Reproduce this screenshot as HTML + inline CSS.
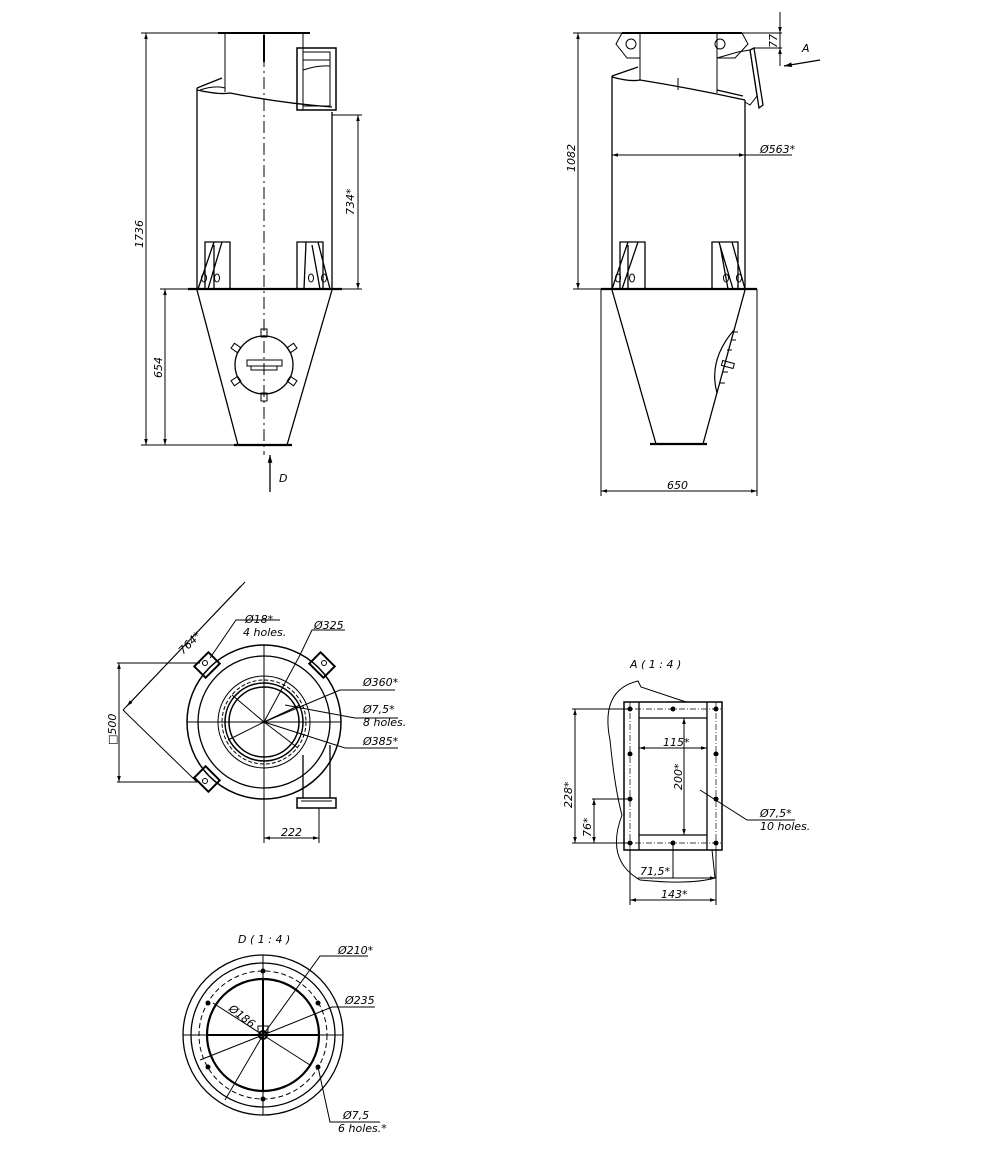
<!DOCTYPE html>
<html><head><style>
html,body{margin:0;padding:0;background:#fff;}
svg{display:block;}
text{font-family:"DejaVu Sans","Liberation Sans",sans-serif;font-style:italic;fill:#000;font-size:11px;}
</style></head><body>
<svg width="1000" height="1149" viewBox="0 0 1000 1149" xmlns="http://www.w3.org/2000/svg">
<defs>
<marker id="ar" viewBox="0 0 10 10" refX="10" refY="5" markerWidth="8" markerHeight="6" orient="auto-start-reverse"><path d="M0,2 L10,5 L0,8 z" fill="#000"/></marker>
</defs>
<g stroke="#000" fill="none" stroke-width="1">
<!-- ========== VIEW 1 ========== -->
<line x1="218" y1="33" x2="310" y2="33" stroke-width="2"/>
<line x1="225" y1="33" x2="225" y2="92"/>
<line x1="303" y1="33" x2="303" y2="110"/>
<line x1="197" y1="88" x2="197" y2="289" stroke-width="1.3"/>
<line x1="332" y1="112" x2="332" y2="289" stroke-width="1.3"/>
<path d="M197,88 L222,78 M197,90 Q220,95 230,93 Q280,103 332,107" stroke-width="1.3"/>
<path d="M200,90 Q215,85 225,88"/>
<rect x="297" y="48" width="39" height="62" stroke-width="1.5"/>
<rect x="303" y="52" width="27" height="54"/>
<path d="M303,60 H330 M303,70 Q318,65 330,66"/>
<line x1="188" y1="289" x2="342" y2="289" stroke-width="2.2"/>
<!-- legs -->
<g stroke-width="1.3">
<path d="M205,289 V242 H230 V289 M214,242 L198,289 M222,242 L208,289 M214,245 V289"/>
<path d="M297,289 V242 H323 V289 M306,242 L304,289 M318,242 L330,289 M312,245 L320,289"/>
</g>
<ellipse cx="204" cy="278" rx="2.5" ry="4"/><ellipse cx="217" cy="278" rx="2.5" ry="4"/>
<ellipse cx="311" cy="278" rx="2.5" ry="4"/><ellipse cx="324" cy="278" rx="2.5" ry="4"/>
<path d="M197,290 L238,445 M332,290 L287,445" stroke-width="1.3"/>
<line x1="234" y1="445" x2="292" y2="445" stroke-width="2.2"/>
<line x1="264" y1="33" x2="264" y2="455" stroke-dasharray="12,4,2,4"/>
<line x1="264" y1="35" x2="264" y2="62" stroke-width="2"/>
<circle cx="264" cy="365" r="29" stroke-width="1.3"/>
<path d="M247,360 H282 V366 H247 Z M251,366 V370 H277 V366"/>
<rect x="261" y="329" width="6" height="8"/><rect x="261" y="393" width="6" height="8"/>
<rect x="232" y="345" width="8" height="6" transform="rotate(35 236 348)"/>
<rect x="288" y="345" width="8" height="6" transform="rotate(-35 292 348)"/>
<rect x="232" y="378" width="8" height="6" transform="rotate(-35 236 381)"/>
<rect x="288" y="378" width="8" height="6" transform="rotate(35 292 381)"/>
<!-- dims -->
<line x1="141" y1="33" x2="218" y2="33"/>
<line x1="141" y1="445" x2="234" y2="445"/>
<line x1="146" y1="33" x2="146" y2="445" marker-start="url(#ar)" marker-end="url(#ar)"/>
<line x1="160" y1="289" x2="188" y2="289"/>
<line x1="165" y1="289" x2="165" y2="445" marker-start="url(#ar)" marker-end="url(#ar)"/>
<line x1="332" y1="115" x2="362" y2="115"/>
<line x1="342" y1="289" x2="362" y2="289"/>
<line x1="358" y1="115" x2="358" y2="289" marker-start="url(#ar)" marker-end="url(#ar)"/>
<line x1="270" y1="492" x2="270" y2="455" marker-end="url(#ar)" stroke-width="1.3"/>

<!-- ========== VIEW 2 ========== -->
<line x1="622" y1="33" x2="742" y2="33" stroke-width="2"/>
<line x1="640" y1="33" x2="640" y2="80"/>
<line x1="717" y1="33" x2="717" y2="93"/>
<path d="M622,33 L616,44 L627,58 L640,58 M742,33 L748,44 L735,58 L717,58"/>
<circle cx="631" cy="44" r="5"/><circle cx="720" cy="44" r="5"/>
<line x1="612" y1="76" x2="612" y2="289" stroke-width="1.3"/>
<line x1="745" y1="100" x2="745" y2="289" stroke-width="1.3"/>
<path d="M612,76 L638,67 M612,77 Q630,82 640,80 Q690,88 745,100 M717,90 L743,96" stroke-width="1.3"/>
<line x1="678" y1="78" x2="678" y2="90"/>
<path d="M717,58 L738,52 L750,50 L757,96 L750,105 L745,102" />
<path d="M750,50 L754,48 L763,105 L759,108 Z" stroke-width="1.3"/>
<line x1="601" y1="289" x2="757" y2="289" stroke-width="2.2"/>
<g stroke-width="1.3">
<path d="M620,289 V242 H645 V289 M628,242 L612,289 M638,242 L622,289 M628,245 V289"/>
<path d="M712,289 V242 H738 V289 M719,242 L733,289 M732,242 L745,289 M720,245 L728,289"/>
</g>
<ellipse cx="618" cy="278" rx="2.5" ry="4"/><ellipse cx="632" cy="278" rx="2.5" ry="4"/>
<ellipse cx="726" cy="278" rx="2.5" ry="4"/><ellipse cx="739" cy="278" rx="2.5" ry="4"/>
<path d="M612,290 L656,444 M745,290 L703,444" stroke-width="1.3"/>
<line x1="650" y1="444" x2="707" y2="444" stroke-width="2.2"/>
<path d="M734,330 Q708,360 717,393" stroke-width="1.2"/>
<path d="M733,332 h5 M731,340 h5 M727,350 h5 M723,372 h5 M720,383 h5"/>
<rect x="722" y="362" width="12" height="5" transform="rotate(15 728 364)"/>
<!-- dims -->
<line x1="573" y1="33" x2="622" y2="33"/>
<line x1="573" y1="289" x2="601" y2="289"/>
<line x1="578" y1="33" x2="578" y2="289" marker-start="url(#ar)" marker-end="url(#ar)"/>
<line x1="612" y1="155" x2="745" y2="155" marker-start="url(#ar)" marker-end="url(#ar)"/>
<line x1="745" y1="155" x2="792" y2="155"/>
<line x1="742" y1="33" x2="782" y2="33"/>
<line x1="754" y1="48" x2="782" y2="48"/>
<line x1="780" y1="12" x2="780" y2="33" marker-end="url(#ar)"/>
<line x1="780" y1="66" x2="780" y2="48" marker-end="url(#ar)"/>
<line x1="780" y1="33" x2="780" y2="48"/>
<line x1="820" y1="60" x2="784" y2="66" marker-end="url(#ar)" stroke-width="1.3"/>
<line x1="601" y1="289" x2="601" y2="496"/>
<line x1="757" y1="289" x2="757" y2="496"/>
<line x1="601" y1="491" x2="757" y2="491" marker-start="url(#ar)" marker-end="url(#ar)"/>

<!-- ========== PLAN VIEW ========== -->
<circle cx="264" cy="722" r="77" stroke-width="1.5"/>
<circle cx="264" cy="722" r="66" stroke-width="1.3"/>
<circle cx="264" cy="722" r="46"/>
<circle cx="264" cy="722" r="42" stroke-dasharray="4,2"/>
<circle cx="264" cy="722" r="39" stroke-width="1.5"/>
<circle cx="264" cy="722" r="35" stroke-width="1.5"/>
<line x1="187" y1="722" x2="341" y2="722"/>
<line x1="264" y1="645" x2="264" y2="840"/>
<g stroke-width="2">
<rect x="-10" y="-8" width="20" height="16" transform="translate(207,665) rotate(-45)"/>
<rect x="-10" y="-8" width="20" height="16" transform="translate(322,665) rotate(45)"/>
<rect x="-10" y="-8" width="20" height="16" transform="translate(207,779) rotate(45)"/>
</g>
<circle cx="205" cy="663" r="2.5"/><circle cx="324" cy="663" r="2.5"/><circle cx="205" cy="781" r="2.5"/>
<path d="M303,755 V798 M330,745 V798" stroke-width="1.3"/>
<rect x="297" y="798" width="39" height="10" stroke-width="1.5"/>
<line x1="301" y1="801" x2="332" y2="801"/>
<!-- leader lines -->
<path d="M264,722 L300,655 L312,630 H345"/>
<path d="M264,722 L340,690 H395"/>
<path d="M264,722 L345,748 H398"/>
<path d="M285,705 L355,718 H398"/>
<path d="M210,658 L236,620 H280"/>
<path d="M264,722 L228,740 M264,722 L300,705 M264,722 L232,695 M264,722 L298,748" />
<line x1="117" y1="663" x2="200" y2="663"/><line x1="117" y1="782" x2="200" y2="782"/>
<line x1="119" y1="663" x2="119" y2="782" marker-start="url(#ar)" marker-end="url(#ar)"/>
<line x1="123" y1="710" x2="197" y2="782"/>
<line x1="123" y1="710" x2="245" y2="582"/>
<line x1="127" y1="706" x2="241" y2="586" marker-start="url(#ar)"/>
<line x1="264" y1="808" x2="264" y2="843"/><line x1="319" y1="808" x2="319" y2="843"/>
<line x1="264" y1="838" x2="319" y2="838" marker-start="url(#ar)" marker-end="url(#ar)"/>

<!-- ========== VIEW A ========== -->
<rect x="624" y="702" width="98" height="148" stroke-width="1.5"/>
<path d="M639,702 V850 M707,702 V850" stroke-width="1.3"/>
<path d="M639,718 H707 M639,835 H707" stroke-width="1.3"/>
<path d="M630,702 V850 M716,702 V850 M624,709 H722 M624,843 H722" stroke-dasharray="6,2,1,2" stroke-width="0.7"/>
<g fill="#000" stroke="none">
<circle cx="630" cy="709" r="2.5"/><circle cx="673" cy="709" r="2.5"/><circle cx="716" cy="709" r="2.5"/>
<circle cx="630" cy="754" r="2.5"/><circle cx="716" cy="754" r="2.5"/>
<circle cx="630" cy="799" r="2.5"/><circle cx="716" cy="799" r="2.5"/>
<circle cx="630" cy="843" r="2.5"/><circle cx="673" cy="843" r="2.5"/><circle cx="716" cy="843" r="2.5"/>
</g>
<path d="M686,702 L641,687 L638,681 Q600,690 610,740 Q615,790 622,815 Q605,860 640,880 Q690,885 715,878 L712,850"/>
<line x1="572" y1="709" x2="630" y2="709"/><line x1="572" y1="843" x2="630" y2="843"/>
<line x1="575" y1="709" x2="575" y2="843" marker-start="url(#ar)" marker-end="url(#ar)"/>
<line x1="592" y1="799" x2="630" y2="799"/>
<line x1="594" y1="799" x2="594" y2="843" marker-start="url(#ar)" marker-end="url(#ar)"/>
<line x1="639" y1="748" x2="707" y2="748" marker-start="url(#ar)" marker-end="url(#ar)"/>
<line x1="684" y1="718" x2="684" y2="835" marker-start="url(#ar)" marker-end="url(#ar)"/>
<path d="M700,790 L747,820 H795"/>
<line x1="630" y1="850" x2="630" y2="905"/><line x1="716" y1="850" x2="716" y2="905"/>
<line x1="673" y1="843" x2="673" y2="878"/>
<line x1="638" y1="878" x2="716" y2="878"/>
<line x1="673" y1="878" x2="716" y2="878" marker-end="url(#ar)"/>
<line x1="630" y1="900" x2="716" y2="900" marker-start="url(#ar)" marker-end="url(#ar)"/>

<!-- ========== VIEW D ========== -->
<circle cx="263" cy="1035" r="80" stroke-width="1.3"/>
<circle cx="263" cy="1035" r="72" stroke-width="1.3"/>
<circle cx="263" cy="1035" r="64" stroke-dasharray="5,3"/>
<circle cx="263" cy="1035" r="56" stroke-width="2.2"/>
<line x1="183" y1="1035" x2="343" y2="1035"/>
<line x1="263" y1="955" x2="263" y2="1115"/>
<g stroke-width="2"><line x1="207" y1="1035" x2="319" y2="1035"/><line x1="263" y1="979" x2="263" y2="1091"/></g>
<circle cx="263" cy="1035" r="4" stroke-width="2"/>
<rect x="258" y="1026" width="10" height="6"/>
<g fill="#000" stroke="none">
<circle cx="263" cy="971" r="2.5"/><circle cx="263" cy="1099" r="2.5"/>
<circle cx="208" cy="1003" r="2.5"/><circle cx="318" cy="1003" r="2.5"/>
<circle cx="208" cy="1067" r="2.5"/><circle cx="318" cy="1067" r="2.5"/>
</g>
<path d="M263,1035 L320,956 H368"/>
<path d="M263,1035 L213,1003"/>
<path d="M263,1035 L200,1060 M263,1035 L332,1007 H375"/>
<path d="M263,1035 L225,1100"/>
<path d="M263,1035 L310,1065 M318,1067 L330,1122 H380"/>
</g>
<g>
<text transform="translate(143,248) rotate(-90)">1736</text>
<text transform="translate(162,378) rotate(-90)">654</text>
<text transform="translate(354,215) rotate(-90)">734*</text>
<text x="279" y="482" font-size="14" font-family="Liberation Serif">D</text>
<text transform="translate(575,172) rotate(-90)">1082</text>
<text x="760" y="153">Ø563*</text>
<text transform="translate(777,48) rotate(-90)">77</text>
<text x="802" y="52" font-size="15">A</text>
<text x="667" y="489">650</text>
<text x="245" y="623" font-family="Liberation Serif">Ø18*</text>
<text x="243" y="636" font-size="10" font-family="Liberation Serif">4 holes.</text>
<text x="314" y="629">Ø325</text>
<text x="363" y="686">Ø360*</text>
<text x="363" y="713">Ø7,5*</text>
<text x="363" y="726" font-size="10" font-family="Liberation Serif">8 holes.</text>
<text x="363" y="745">Ø385*</text>
<text transform="translate(183,655) rotate(-45)">764*</text>
<text transform="translate(116,745) rotate(-90)">□500</text>
<text x="281" y="836">222</text>
<text x="630" y="668" font-size="14">A ( 1 : 4 )</text>
<text x="663" y="746" font-size="10">115*</text>
<text transform="translate(682,790) rotate(-90)" font-size="10">200*</text>
<text x="760" y="817">Ø7,5*</text>
<text x="760" y="830" font-size="10" font-family="Liberation Serif">10 holes.</text>
<text transform="translate(572,808) rotate(-90)" font-size="10">228*</text>
<text transform="translate(591,837) rotate(-90)" font-size="10">76*</text>
<text x="640" y="875" font-size="10">71,5*</text>
<text x="661" y="898" font-size="10">143*</text>
<text x="238" y="943" font-size="14" font-family="Liberation Serif">D ( 1 : 4 )</text>
<text x="338" y="954">Ø210*</text>
<text x="345" y="1004">Ø235</text>
<text transform="translate(228,1010) rotate(38)" font-size="10">Ø186</text>
<text x="343" y="1119">Ø7,5</text>
<text x="338" y="1132" font-size="10" font-family="Liberation Serif">6 holes.*</text>
</g>
</svg>
</body></html>
